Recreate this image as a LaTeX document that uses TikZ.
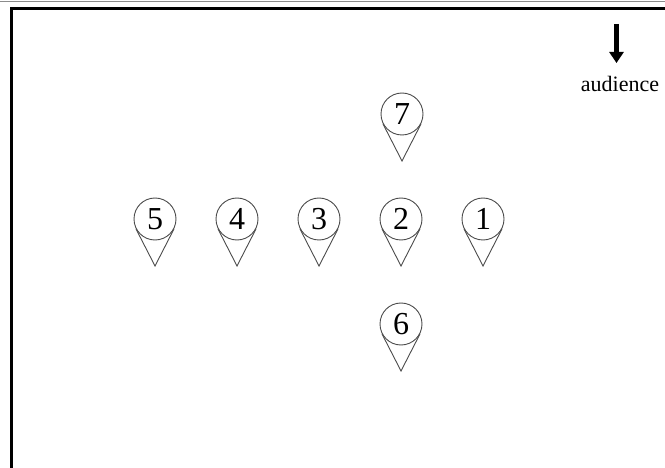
\documentclass[tikz,border=0pt]{standalone}
\usepackage{fontspec}
\setmainfont{Liberation Serif}
\usetikzlibrary{calc,arrows.meta}
\tikzset{
  pin/.style={circle,draw=black!70,line width=0.9pt,minimum size=42pt,inner sep=0pt,
    font=\fontsize{32}{32}\selectfont},
  pinline/.style={draw=black!70,line width=0.9pt},
}
\newcommand{\pinmark}[4]{% name, x, y, label
  \node[pin] (#1) at (#2,#3) {\raisebox{-1.5pt}{#4}};
  \coordinate (#1a) at (#2,#3+47);
  \draw[pinline] (tangent cs:node=#1,point={(#1a)},solution=1) -- (#1a)
    -- (tangent cs:node=#1,point={(#1a)},solution=2);
}
\begin{document}
\begin{tikzpicture}[x=1pt,y=-1pt]
\useasboundingbox[fill=white] (0,0) rectangle (665,468);
\draw[black!45,line width=0.8pt] (0,1.5) -- (665,1.5);
\draw[line width=2.7pt] (11.3,468) -- (11.3,8.7) -- (665,8.7);
\pinmark{p5}{155}{219}{5}
\pinmark{p4}{237}{219}{4}
\pinmark{p3}{319}{219}{3}
\pinmark{p2}{401}{219}{2}
\pinmark{p1}{483}{219}{1}
\pinmark{p7}{402}{114}{7}
\pinmark{p6}{401}{324}{6}
\node[anchor=base,inner sep=0pt,font=\fontsize{22}{22}\selectfont] (aud) at (620,91.7) {audience};
\coordinate (arrtop) at (616.5,24);
\coordinate (arrend) at (616.5,63);
\draw[line width=4.5pt,-{Triangle[width=14pt,length=11pt]}] (arrtop) -- (arrend);
\end{tikzpicture}
\end{document}
